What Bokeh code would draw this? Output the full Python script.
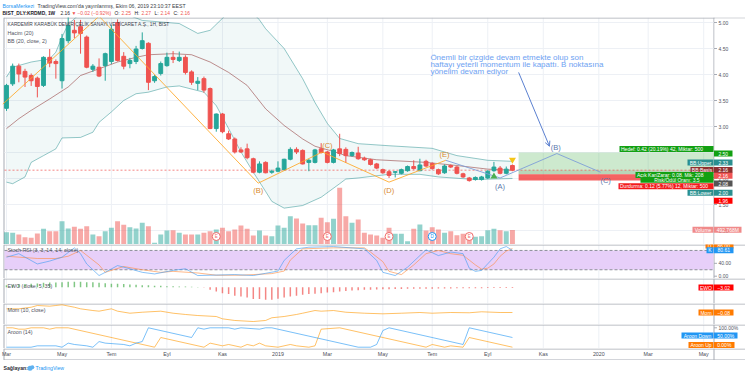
from bokeh.plotting import figure
from bokeh.models import Range1d, Arrow, OpenHead
from bokeh.layouts import column
from bokeh.embed import file_html
from bokeh.resources import INLINE
from bokeh.core.properties import value

# ======================= DATA =======================
first_week = "2018-03-05"   # weekly bars (Monday), last bar 2019-09-30
opens = [3.35, 3.82, 4.16, 4.06, 3.98, 3.93, 3.79, 4.33, 4.25, 3.88,
         4.65, 4.85, 4.92, 4.72, 4.10, 4.14, 4.17, 4.25, 5.00, 4.35,
         4.21, 4.25, 4.50, 4.60, 3.88, 4.02, 4.17, 4.33, 4.27, 4.33,
         4.05, 3.83, 3.92, 3.73, 2.96, 3.24, 2.86, 2.76, 2.55, 2.57,
         2.38, 2.12, 2.31, 2.12, 2.14, 2.17, 2.37, 2.56, 2.54, 2.31,
         2.31, 2.57, 2.51, 2.31, 2.57, 2.56, 2.44, 2.49, 2.39, 2.36,
         2.28, 2.17, 2.13, 2.12, 2.10, 2.15, 2.23, 2.15, 2.33, 2.29,
         2.17, 2.11, 2.25, 2.22, 2.09, 2.01, 1.98, 1.98, 2.01, 2.15,
         2.20, 2.10, 2.25]
highs = [3.82, 4.21, 4.21, 4.11, 4.02, 3.96, 4.35, 4.49, 4.29, 4.78,
         5.15, 5.05, 5.05, 4.75, 4.20, 4.31, 4.42, 4.95, 5.06, 4.43,
         4.32, 4.55, 4.81, 4.62, 3.99, 4.25, 4.42, 4.45, 4.44, 4.37,
         4.08, 3.95, 3.96, 3.75, 3.25, 3.26, 2.92, 2.79, 2.60, 2.67,
         2.40, 2.33, 2.33, 2.17, 2.33, 2.38, 2.60, 2.60, 2.56, 2.38,
         2.57, 2.68, 2.53, 2.57, 2.86, 2.60, 2.52, 2.61, 2.42, 2.38,
         2.30, 2.19, 2.16, 2.14, 2.19, 2.25, 2.35, 2.38, 2.36, 2.31,
         2.19, 2.27, 2.27, 2.24, 2.11, 2.03, 2.04, 2.05, 2.16, 2.32,
         2.24, 2.23, 2.27]
lows = [3.30, 3.78, 3.85, 3.76, 3.78, 3.56, 3.76, 4.14, 3.92, 3.73,
        4.60, 4.70, 4.40, 4.12, 4.05, 3.95, 3.88, 4.20, 4.25, 4.10,
        4.12, 4.20, 4.48, 3.70, 3.84, 3.98, 4.15, 4.22, 4.24, 4.00,
        3.80, 3.70, 3.65, 2.95, 2.90, 2.87, 2.74, 2.48, 2.49, 2.37,
        2.10, 2.10, 2.10, 2.09, 2.12, 2.15, 2.35, 2.47, 2.27, 2.14,
        2.29, 2.48, 2.29, 2.29, 2.43, 2.30, 2.42, 2.36, 2.34, 2.25,
        2.18, 2.09, 2.01, 2.02, 2.08, 2.13, 2.17, 2.14, 2.22, 2.17,
        2.07, 2.09, 2.20, 2.08, 2.01, 1.94, 1.96, 1.96, 1.99, 2.13,
        2.08, 2.08, 2.14]
closes = [3.79, 4.16, 4.01, 3.95, 3.88, 3.77, 4.33, 4.22, 4.21, 4.69,
          4.94, 4.80, 4.79, 4.14, 4.16, 3.97, 4.40, 4.87, 4.27, 4.16,
          4.27, 4.49, 4.65, 3.85, 3.96, 4.21, 4.33, 4.29, 4.33, 4.04,
          3.85, 3.87, 3.70, 2.96, 3.24, 2.90, 2.76, 2.51, 2.51, 2.40,
          2.12, 2.28, 2.11, 2.14, 2.20, 2.37, 2.56, 2.51, 2.28, 2.35,
          2.55, 2.50, 2.31, 2.55, 2.48, 2.44, 2.50, 2.38, 2.36, 2.27,
          2.20, 2.11, 2.06, 2.13, 2.17, 2.23, 2.19, 2.26, 2.24, 2.19,
          2.09, 2.24, 2.22, 2.10, 2.03, 1.96, 2.02, 2.03, 2.14, 2.22,
          2.10, 2.18, 2.16]
volume_m = [418, 398, 340, 248, 228, 374, 534, 452, 452, 792,
            544, 602, 534, 622, 340, 282, 452, 568, 792, 670,
            588, 544, 738, 622, 58, 340, 476, 486, 398, 340,
            340, 340, 398, 452, 510, 568, 452, 510, 646, 534,
            306, 476, 306, 282, 646, 568, 962, 884, 714, 656,
            656, 908, 758, 874, 1928, 962, 738, 850, 398, 340,
            306, 228, 568, 364, 364, 112, 534, 680, 476, 588,
            510, 398, 452, 316, 364, 282, 262, 282, 486, 534,
            486, 452, 492.768]

bb_upper_idx = [0, 1, 4, 7, 8, 9, 10, 11, 13, 16, 19, 22, 28, 31, 33, 35, 37, 39, 41, 42,
                45, 48, 50, 52, 54, 57, 62, 69, 73, 78, 82]
bb_upper = [3.95, 4.14, 4.24, 4.30, 4.43, 4.72, 4.97, 5.07, 5.30, 5.32, 5.18, 5.04, 4.98, 4.79,
            4.85, 5.08, 5.30, 5.30, 5.05, 4.88, 4.50, 3.92, 3.46, 3.06, 2.77, 2.67, 2.63, 2.58,
            2.44, 2.35, 2.33]
bb_lower_idx = [0, 1, 3, 4, 6, 8, 9, 12, 14, 15, 17, 19, 21, 23, 26, 28, 32, 34, 36, 38,
                40, 42, 43, 45, 48, 51, 54, 55, 57, 62, 67, 70, 76, 82]
bb_lower = [1.93, 1.90, 2.03, 2.31, 2.44, 2.57, 2.78, 2.79, 2.89, 3.08, 3.28, 3.50, 3.63, 3.66,
            3.76, 3.78, 3.66, 3.40, 2.96, 2.51, 2.12, 1.75, 1.56, 1.43, 1.48, 1.64, 1.90, 1.99,
            2.01, 2.08, 2.08, 2.03, 1.98, 2.00]
bb_basis_idx = [0, 2, 4, 7, 10, 12, 15, 18, 21, 23, 27, 30, 33, 36, 39, 42, 45, 48, 50, 53,
                55, 60, 68, 73, 78, 82]
bb_basis = [2.96, 3.15, 3.31, 3.53, 3.76, 3.98, 4.11, 4.24, 4.33, 4.38, 4.40, 4.38, 4.24, 4.04,
            3.79, 3.34, 3.02, 2.76, 2.62, 2.52, 2.44, 2.36, 2.31, 2.25, 2.18, 2.16]

stoch_k_idx = [0, 2, 5, 7, 9, 11, 12, 13, 15, 16, 18, 20, 22, 24, 27, 29, 31, 37, 40, 42,
               44, 45, 47, 49, 53, 58, 60, 61, 63, 65, 67, 68, 70, 72, 74, 75, 76, 77, 79, 80,
               81, 82]
stoch_k = [59, 70, 38, 47, 59, 88, 70, 38, 2, 12, 33, 23, 12, 7, 18, 23, 2, 5, 2, 9,
           16, 49, 85, 90, 92, 85, 49, 12, 2, 28, 64, 82, 64, 75, 70, 25, 15, 18, 59, 85,
           92, 80.61]
stoch_d_idx = [0, 5, 8, 10, 12, 13, 15, 16, 19, 22, 25, 27, 31, 34, 38, 43, 45, 46, 48, 53,
               58, 59, 61, 62, 64, 66, 68, 70, 72, 74, 75, 76, 77, 78, 79, 80, 81, 82]
stoch_d = [62, 55, 55, 62, 80, 65, 35, 12, 30, 20, 12, 15, 10, 3, 3, 8, 16, 50, 85, 88,
           88, 75, 45, 15, 5, 35, 70, 80, 70, 65, 50, 35, 22, 25, 38, 62, 78, 86]

ewo = [8, 10, 12, 13, 14, 16, 19, 20, 20, 21,
       23, 23, 23, 21, 21, 19, 17, 15, 15, 13,
       11, 10, 8, 8, 6, 6, 4, 4, 3, 2.5,
       2, 1, -1, -11, -18, -25, -29, -36, -39, -43,
       -50, -50, -53, -53, -49, -43, -39, -36, -32, -29,
       -28, -25, -22, -21, -18, -16, -14, -13, -11, -11,
       -10, -9, -9, -8, -8, -7, -7, -6, -6, -6,
       -5, -5, -5, -4.5, -4.5, -4, -4, -4, -3.5, -3.5,
       -3.5, -3.2, -3.02]

mom_idx = [0, 2, 4, 5, 7, 8, 9, 11, 12, 14, 15, 17, 18, 20, 22, 25, 27, 29, 31, 34,
           35, 37, 40, 42, 43, 45, 47, 48, 50, 51, 53, 55, 58, 61, 64, 67, 69, 72, 75, 77,
           80, 82]
mom = [0.59, 0.59, 0.88, 1.19, 1.07, 1.19, 1.32, 0.88, 0.59, 0.28, 0.16, 0.59, 0.16, -0.21,
       -0.03, 0.16, -0.21, -0.44, -0.63, -0.81, -1.23, -1.53, -1.72, -1.53, -1.04, -0.81,
       -0.44, -0.21, 0.28, 0.16, 0.28, -0.03, -0.21, -0.32, -0.21, -0.08, -0.21, -0.08,
       -0.13, 0.05, -0.08, -0.08]

aroon_up_idx = [0, 1, 2, 3, 4, 6, 7, 8, 10, 24, 25, 32, 33, 35, 36, 38, 39, 40, 41, 42,
                44, 46, 47, 49, 50, 51, 54, 68, 69, 71, 72, 74, 75, 82]
aroon_up = [100, 100, 93, 93, 100, 100, 93, 100, 100, 0, 50, 0, 21, 7, 14, 0, 14, 7, 21, 7,
            0, 14, 7, 0, 7, 93, 100, 0, 14, 0, 7, 0, 50, 0]
aroon_down_idx = [0, 4, 5, 8, 9, 10, 11, 13, 14, 15, 16, 19, 20, 21, 22, 23, 30, 31, 32, 33,
                  36, 37, 38, 41, 42, 43, 57, 59, 60, 61, 62, 74, 75, 82]
aroon_down = [0, 0, 7, 7, 0, 21, 14, 7, 0, 29, 21, 14, 7, 21, 29, 100, 50, 100, 93, 100,
              100, 93, 100, 93, 100, 100, 0, 0, 14, 86, 100, 14, 100, 50]

# Elliott-wave drawings (bar index, price)
wave_idx = [-0.6, 15.0, 40.8, 51.2, 62.0, 71.2]
wave_price = [3.43, 5.12, 1.91, 2.51, 1.93, 2.35]
wave_label_text = ["(B)", "(C)", "(D)", "(E)"]
wave_label_idx = [40.8, 52.0, 62.0, 71.0]
wave_label_price = [1.76, 2.63, 1.76, 2.47]
proj_idx = [71.2, 80.0, 89.2, 96.3]
proj_price = [2.35, 2.01, 2.48, 2.12]
proj_label_text = ["(A)", "(B)", "(C)"]
proj_label_idx = [80.0, 89.0, 97.1]
proj_label_price = [1.84, 2.60, 1.96]
arrow_idx = [83.0, 88.0]
arrow_price = [4.04, 2.62]
note_lines = ["Önemli bir çizgide devam etmekte olup son",
              "haftayı yeterli momentum ile kapattı. B noktasına",
              "yönelim devam ediyor"]
note_idx = 68.7
note_price = [4.32, 4.185, 4.05]

# long position tool
pos_left_idx = 83.0
pos_target = 2.50
pos_entry = 2.08
pos_stop = 1.96

buy_idx, buy_price = [79], [2.04]
sell_idx, sell_price = [82], [2.36]
event_idx = [34, 52, 62, 69, 75]
event_kind = ["E", "E", "E", "D", "E"]

month_tick_idx = [0, 9, 17, 26, 35, 44, 52, 61, 69, 78, 87, 96, 104, 113]
month_tick_labels = ["Mar", "May", "Tem", "Eyl", "Kas", "2019", "Mar", "May", "Tem", "Eyl",
                     "Kas", "2020", "Mar", "May"]
price_ticks = [5.0, 4.5, 4.0, 3.5, 3.0, 2.5, 2.0, 1.5, 1.0]

# ======================= LAYOUT HELPERS =======================
n = len(closes)
idx = list(range(n))
GREEN, RED = "#26a69a", "#ef5350"
ccol = [GREEN if c >= o else RED for o, c in zip(opens, closes)]

W = 745
PX0, PXW = 6.0, 6.17
def X(px):
    return (px - PX0) / PXW

xr = Range1d(X(0), X(W))
FONT = value("Liberation Sans")
GRID = "#edf0f5"
BORDER = "#a7abb4"
TXT = "#50535e"

def YM(py): return 5.0 - (py - 22.0) / 52.0
def YS(py): return (275.7 - py) / 0.322
def YE(py): return (286.7 - py) * 4.2
def YO(py): return (311.56 - py) / 5.5
def YA(py): return (346.7 - py) / 0.194
def YP(py): return py

def mk(h, top, bottom, Y):
    p = figure(width=W, height=h, x_range=xr, y_range=Range1d(Y(bottom), Y(top)),
               x_axis_type=None, y_axis_type=None, output_backend="svg",
               toolbar_location=None, min_border=0, title=None, tools="")
    p.outline_line_color = None
    p.background_fill_color = "white"
    p.border_fill_color = "white"
    return p

def T(p, x, y, text, size=5.2, color=TXT, align="left", style="normal", alpha=1.0):
    if not isinstance(x, (list, tuple)):
        x, y, text = [x], [y], [text]
    p.text(x=x, y=y, text=text, text_font=FONT, text_font_size=f"{size}px",
           text_color=color, text_align=align, text_baseline="middle",
           text_font_style=style, text_alpha=alpha)

def B(p, Y, x0, x1, y0, y1, color, alpha=1.0):
    p.quad(left=[X(x0)], right=[X(x1)], top=[Y(y0)], bottom=[Y(y1)],
           fill_color=color, fill_alpha=alpha, line_color=None)

def TAG(p, Y, x0, x1, yc, label, color, tcolor="white", h=6.0, align="center", size=5.0):
    B(p, Y, x0, x1, yc - h / 2, yc + h / 2, color)
    tx = {"center": (x0 + x1) / 2, "right": x1 - 1.5, "left": x0 + 1.5}[align]
    T(p, X(tx), Y(yc), label, size, tcolor, align=align)

def L(p, Y, x0, y0, x1, y1, color=BORDER, width=1, dash="solid", alpha=1.0):
    p.line([X(x0), X(x1)], [Y(y0), Y(y1)], line_color=color, line_width=width,
           line_dash=dash, line_alpha=alpha)

def frame(p, Y, top, bottom):
    p.segment(x0=month_tick_idx, x1=month_tick_idx, y0=Y(top), y1=Y(bottom), line_color=GRID)
    L(p, Y, 3.5, top, 3.5, bottom)
    L(p, Y, 713.5, top, 713.5, bottom)
    L(p, Y, 3.5, top + 0.5, 745, top + 0.5)

# ======================= HEADER =======================
hd = mk(17, 0, 17, YP)
T(hd, X(2), 5, "BorsaMerkezi", 5.2, "#2196f3")
T(hd, X(37), 5, "TradingView.com'da yayınlanmış, Ekim 06, 2019 23:10:37 EEST", 5.2, "#3a3d45")
chg = closes[-1] - closes[-2]
chg_pct = chg / closes[-2] * 100
DARK, HRED = "#1e2029", "#ef5350"
parts = [(2, "BIST_DLY:KRDMD, 1W", DARK, "bold"),
         (60, f"{closes[-1]:.2f}", DARK, "normal"),
         (71, "▼", HRED, "normal"),
         (77, f"−{abs(chg):.2f} (−{abs(chg_pct):.2f}%)", HRED, "normal"),
         (114, "O:", DARK, "normal"), (121, f"{opens[-1]:.2f}", HRED, "normal"),
         (134, "H:", DARK, "normal"), (141, f"{highs[-1]:.2f}", HRED, "normal"),
         (154, "L:", DARK, "normal"), (160, f"{lows[-1]:.2f}", HRED, "normal"),
         (173, "C:", DARK, "normal"), (180, f"{closes[-1]:.2f}", HRED, "normal")]
for xp, s, c, st_ in parts:
    T(hd, X(xp), 12.5, s, 4.9, c, style=st_)

# ======================= MAIN PANE =======================
mn = mk(227, 17, 244, YM)
frame(mn, YM, 17, 244)
mn.segment(x0=X(4), x1=X(713), y0=price_ticks, y1=price_ticks, line_color=GRID)

VOL_TOP = volume_m[-1] / 14.5 * 227
mn.extra_y_ranges = {"vol": Range1d(0, VOL_TOP)}
mn.vbar(x=idx, top=volume_m, bottom=0, width=0.8, fill_color=ccol, fill_alpha=0.5,
        line_color=None, y_range_name="vol")

mn.patch(bb_upper_idx + bb_lower_idx[::-1], bb_upper + bb_lower[::-1],
         fill_color="#198787", fill_alpha=0.06, line_color=None)
mn.line(bb_upper_idx, bb_upper, line_color="#138484", line_alpha=0.45, line_width=1)
mn.line(bb_lower_idx, bb_lower, line_color="#138484", line_alpha=0.45, line_width=1)
mn.line(bb_basis_idx, bb_basis, line_color="#872323", line_alpha=0.5, line_width=1)

# position tool
mn.quad(left=[pos_left_idx], right=[X(713)], bottom=[pos_entry], top=[pos_target],
        fill_color="#4caf50", fill_alpha=0.28, line_color=None)
mn.quad(left=[pos_left_idx], right=[X(713)], bottom=[pos_entry], top=[closes[-1]],
        fill_color="#6d8f6d", fill_alpha=0.22, line_color=None)
mn.quad(left=[pos_left_idx], right=[X(713)], bottom=[pos_stop], top=[pos_entry],
        fill_color="#f23b3b", fill_alpha=0.8, line_color=None)

# last price line
mn.line([X(4), X(713)], [closes[-1], closes[-1]], line_color="#ef5350", line_alpha=0.7,
        line_dash="2 2", line_width=1)

# candles
mn.segment(x0=idx, x1=idx, y0=lows, y1=highs, line_color=ccol, line_width=1)
mn.vbar(x=idx, width=0.62, top=[max(o, c) for o, c in zip(opens, closes)],
        bottom=[min(o, c) for o, c in zip(opens, closes)], fill_color=ccol, line_color=ccol)

# wave drawings
mn.line(wave_idx, wave_price, line_color="#ffa726", line_alpha=0.85, line_width=1)
T(mn, wave_label_idx, wave_label_price, wave_label_text, 7.5, "#d8892c", align="center")
mn.line(proj_idx, proj_price, line_color="#7e9fd8", line_alpha=0.9, line_width=1)
T(mn, proj_label_idx, proj_label_price, proj_label_text, 7.5, "#5a78ad", align="center")
mn.add_layout(Arrow(end=OpenHead(size=5, line_color="#5b80d0", line_width=1),
                    x_start=arrow_idx[0], y_start=arrow_price[0],
                    x_end=arrow_idx[1], y_end=arrow_price[1],
                    line_color="#5b80d0", line_width=1))
T(mn, [note_idx] * 3, note_price, note_lines, 8, "#6ea2f2")

# signals
mn.scatter(x=buy_idx, y=buy_price, marker="triangle", size=7, fill_color="#4caf50", line_color=None)
mn.scatter(x=sell_idx, y=sell_price, marker="inverted_triangle", size=7, fill_color="#f5c518",
           line_color=None)

# earnings/dividend events
ev_col = ["#2196f3" if k == "D" else "#f06a6a" for k in event_kind]
ev_y = [YM(236)] * len(event_idx)
mn.scatter(x=event_idx, y=ev_y, marker="circle", size=8, fill_color="white",
           line_color=ev_col, line_width=1)
mn.text(x=event_idx, y=ev_y, text=event_kind, text_font=FONT, text_font_size="4.5px",
        text_color=ev_col, text_align="center", text_baseline="middle")

# legends
T(mn, X(7), YM(24.3), "KARDEMİR KARABÜK DEMİR ÇELİK SANAYİ VE TİCARET A.Ş., 1H, BIST", 4.8, "#40434c")
T(mn, X(7), YM(32.7), "Hacim (20)", 5.3, TXT)
T(mn, X(7), YM(40.7), "BB (20, close, 2)", 5.3, TXT)

# right price scale
B(mn, YM, 714, 745, 18, 244, "white")
mn.segment(x0=X(713.5), x1=X(716.5), y0=price_ticks, y1=price_ticks, line_color=BORDER)
T(mn, [X(718)] * len(price_ticks), price_ticks, [f"{v:.2f}" for v in price_ticks], 5.0, TXT)

PG, PR = "#12a012", "#f21c1c"
TEAL, BASIS = "#2a8f8f", "#8e3030"
TAG(mn, YM, 619, 713, 148.5, "Hedef: 0.42 (20.19%) 42, Miktar: 500", PG, align="left")
TAG(mn, YM, 713.5, 732, 153.0, f"{pos_target:.2f}", PG)
TAG(mn, YM, 687, 713, 162.0, "BB:Upper", TEAL)
TAG(mn, YM, 713.5, 732, 162.0, f"{bb_upper[-1]:.2f}", TEAL)
TAG(mn, YM, 690, 713, 169.5, "BB:Basis", BASIS)
TAG(mn, YM, 713.5, 732, 169.5, f"{bb_basis[-1]:.2f}", BASIS)
TAG(mn, YM, 713.5, 732, 175.3, f"{closes[-1]:.2f}", "#f05454")
TAG(mn, YM, 635, 713, 174.6, "Açık Kar/Zarar: 0.08, Mik: 208", PG, align="left")
TAG(mn, YM, 640, 713, 179.5, "Risk/Ödül Oranı: 3.5", PG, h=5.5)
TAG(mn, YM, 618, 713, 185.7, "Durdurma: 0.12 (5.77%) 12, Miktar: 500", PR, align="left")
TAG(mn, YM, 713.5, 732, 183.0, f"{pos_entry:.2f}", "#555555")
TAG(mn, YM, 687, 713, 192.2, "BB:Lower", TEAL)
TAG(mn, YM, 713.5, 732, 192.2, f"{bb_lower[-1]:.2f}", TEAL)
TAG(mn, YM, 713.5, 732, 200.3, f"{pos_stop:.2f}", "#ff0000")
TAG(mn, YM, 692, 713, 229.3, "Volume", "#f08a8a")
TAG(mn, YM, 713.5, 741, 229.3, f"{volume_m[-1]:.3f}M", "#f08a8a")

# ======================= STOCH RSI =======================
st = mk(34, 244, 278, YS)
frame(st, YS, 244, 278)
st.quad(left=[X(4)], right=[X(713)], bottom=[20], top=[80], fill_color="#e7cff9", line_color=None)
st.line([X(4), X(713)], [80, 80], line_color="#8c8f99", line_dash="3 2")
st.line([X(4), X(713)], [20, 20], line_color="#8c8f99", line_dash="3 2")
st.line(stoch_d_idx, stoch_d, line_color="#ff8a3d", line_alpha=0.6, line_width=1)
st.line(stoch_k_idx, stoch_k, line_color="#3d9bf2", line_alpha=0.6, line_width=1)
T(st, X(7), YS(249), "Stoch RSI (3, 3, 14, 14, close)", 5.3, TXT)
st.segment(x0=X(713.5), x1=X(716.5), y0=[40, 0], y1=[40, 0], line_color=BORDER)
T(st, [X(718)] * 2, [40, 0], ["40.00", "0.00"], 5.0, TXT)
TAG(st, YS, 705, 713, 245.0, "D", "#ff7a00")
TAG(st, YS, 713.5, 733, 245.0, f"{stoch_d[-1]:.2f}", "#ff7a00")
TAG(st, YS, 706, 713, 249.7, "K", "#2196f3")
TAG(st, YS, 713.5, 733, 249.7, f"{stoch_k[-1]:.2f}", "#2196f3")

# ======================= EWO =======================
ew = mk(25, 278, 303, YE)
frame(ew, YE, 278, 303)
ew.vbar(x=idx, width=0.24, top=[max(v, 0) for v in ewo], bottom=[min(v, 0) for v in ewo],
        fill_color=["#4caf50" if v >= 0 else "#ef5350" for v in ewo], fill_alpha=0.7,
        line_color=None)
T(ew, X(7), YE(285.5), "EWO (close, 5, 35)", 5.3, TXT)
TAG(ew, YE, 698, 713, 287.0, "EWO", "#ff0000")
TAG(ew, YE, 713.5, 733, 287.0, f"−{abs(ewo[-1]):.2f}", "#ff0000")

# ======================= MOMENTUM =======================
mo = mk(21, 303, 324, YO)
frame(mo, YO, 303, 324)
mo.line(mom_idx, mom, line_color="#ff9800", line_alpha=0.6, line_width=1)
T(mo, X(7), YO(309.5), "Mom (10, close)", 5.3, TXT)
TAG(mo, YO, 698, 713, 312.0, "Mom", "#ff7a00")
TAG(mo, YO, 713.5, 733, 312.0, f"−{abs(mom[-1]):.2f}", "#ff7a00")

# ======================= AROON =======================
ar = mk(24, 324, 348, YA)
frame(ar, YA, 324, 348)
ar.line(aroon_up_idx, aroon_up, line_color="#ff9800", line_alpha=0.6, line_width=1)
ar.line(aroon_down_idx, aroon_down, line_color="#2196f3", line_alpha=0.6, line_width=1)
T(ar, X(7), YA(331), "Aroon (14)", 5.3, TXT)
ar.segment(x0=X(713.5), x1=X(716.5), y0=[100], y1=[100], line_color=BORDER)
T(ar, X(718), 100, "100.00%", 5.0, TXT)
TAG(ar, YA, 681, 713, 335.0, "Aroon Down", "#2196f3")
TAG(ar, YA, 713.5, 737, 335.0, f"{aroon_down[-1]:.2f}%", "#2196f3")
TAG(ar, YA, 688, 713, 344.6, "Aroon Up", "#ff7a00")
TAG(ar, YA, 713.5, 734, 344.6, f"{aroon_up[-1]:.2f}%", "#ff7a00")

# ======================= TIME AXIS =======================
tx = mk(12, 348, 360, YP)
L(tx, YP, 3.5, 348, 3.5, 360)
L(tx, YP, 713.5, 348, 713.5, 360)
L(tx, YP, 3.5, 348.5, 745, 348.5)
L(tx, YP, 3.5, 359.5, 745, 359.5)
T(tx, month_tick_idx, [353.8] * len(month_tick_idx), month_tick_labels, 5.3, "#4a4d57",
  align="center")

# ======================= FOOTER =======================
ft = mk(15, 360, 375, YP)
T(ft, X(3), 367.5, "Sağlayan:", 5.2, "#2a2d35", style="bold")
ft.scatter(x=[X(29.5), X(31.8)], y=[367.8, 366.8], marker="circle", size=[5, 4],
           fill_color="#5fb2f0", line_color=None)
T(ft, X(35), 367.5, "TradingView", 5.2, "#2196f3")

layout = column(hd, mn, st, ew, mo, ar, tx, ft, spacing=0)
open("out.html", "w").write(file_html(layout, INLINE))
